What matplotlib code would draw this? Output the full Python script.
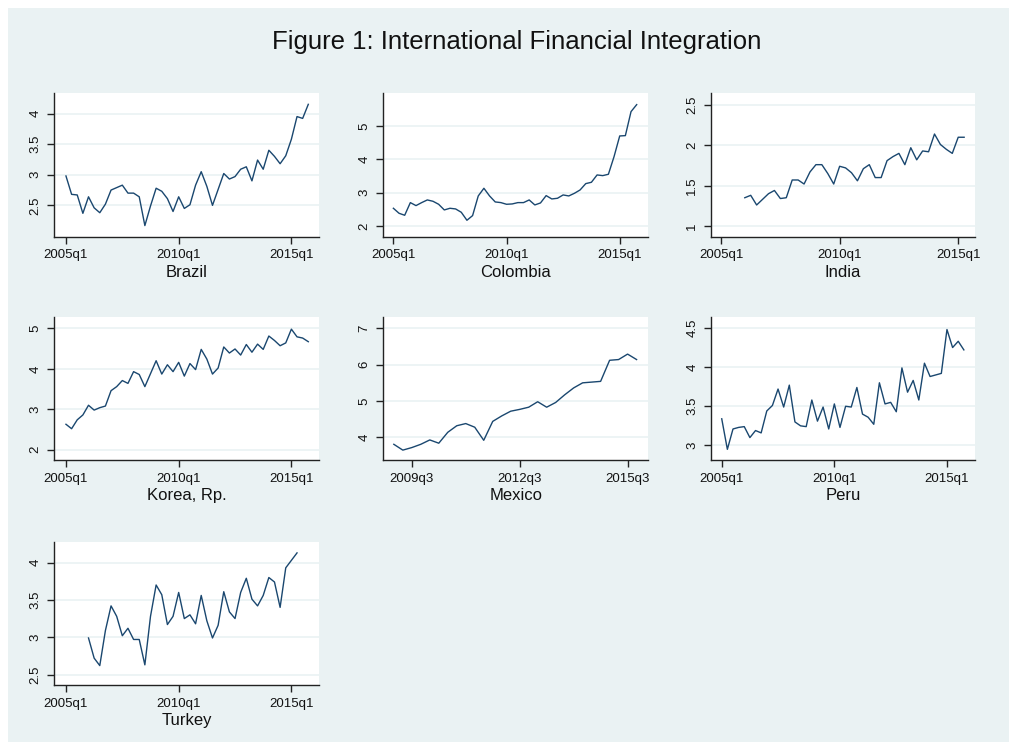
import numpy as np
import matplotlib
matplotlib.use('Agg')
import matplotlib.pyplot as plt
from matplotlib.patches import Rectangle

plt.rcParams['font.family'] = ['Liberation Sans', 'DejaVu Sans']

# quarter index: 0 = 2005q1
countries = ['Brazil', 'Colombia', 'India', 'Korea, Rp.', 'Mexico', 'Peru', 'Turkey']
start_q = [0, 0, 4, 0, 16, 0, 4]

brazil = [2.98, 2.68, 2.67, 2.37, 2.64, 2.46, 2.38, 2.52, 2.75, 2.79, 2.83, 2.70,
          2.70, 2.64, 2.17, 2.49, 2.78, 2.73, 2.61, 2.40, 2.64, 2.45, 2.51, 2.83,
          3.05, 2.81, 2.50, 2.76, 3.02, 2.93, 2.97, 3.09, 3.13, 2.90, 3.24, 3.09,
          3.40, 3.30, 3.18, 3.31, 3.58, 3.95, 3.92, 4.15]
colombia = [2.53, 2.38, 2.32, 2.70, 2.61, 2.70, 2.78, 2.74, 2.65, 2.48, 2.53, 2.51,
            2.41, 2.17, 2.31, 2.90, 3.13, 2.90, 2.72, 2.70, 2.65, 2.66, 2.70, 2.70,
            2.78, 2.63, 2.69, 2.91, 2.81, 2.83, 2.93, 2.90, 2.98, 3.08, 3.27, 3.31,
            3.53, 3.51, 3.55, 4.08, 4.70, 4.71, 5.43, 5.64]
india = [1.35, 1.38, 1.26, 1.33, 1.40, 1.44, 1.34, 1.35, 1.57, 1.57, 1.52, 1.67,
         1.76, 1.76, 1.65, 1.52, 1.74, 1.72, 1.66, 1.56, 1.71, 1.76, 1.60, 1.60,
         1.81, 1.86, 1.90, 1.76, 1.97, 1.82, 1.93, 1.92, 2.14, 2.01, 1.95, 1.90,
         2.10, 2.10]
korea = [2.63, 2.52, 2.74, 2.86, 3.10, 2.98, 3.04, 3.08, 3.46, 3.56, 3.71, 3.64,
         3.93, 3.86, 3.56, 3.88, 4.20, 3.87, 4.10, 3.93, 4.16, 3.82, 4.13, 3.98,
         4.48, 4.24, 3.87, 4.02, 4.54, 4.39, 4.49, 4.34, 4.60, 4.41, 4.61, 4.48,
         4.81, 4.70, 4.57, 4.64, 4.98, 4.79, 4.76, 4.67]
mexico = [3.81, 3.65, 3.72, 3.81, 3.93, 3.84, 4.14, 4.32, 4.38, 4.28, 3.92, 4.44,
          4.59, 4.72, 4.77, 4.83, 4.98, 4.83, 4.96, 5.17, 5.36, 5.50, 5.52, 5.54,
          6.12, 6.14, 6.29, 6.14]
peru = [3.34, 2.95, 3.21, 3.23, 3.24, 3.10, 3.19, 3.16, 3.44, 3.51, 3.72, 3.49,
        3.77, 3.30, 3.25, 3.24, 3.58, 3.31, 3.49, 3.21, 3.53, 3.23, 3.50, 3.49,
        3.74, 3.40, 3.36, 3.27, 3.80, 3.53, 3.55, 3.43, 3.99, 3.68, 3.83, 3.58,
        4.05, 3.88, 3.90, 3.92, 4.48, 4.25, 4.33, 4.22]
turkey = [2.99, 2.72, 2.62, 3.09, 3.42, 3.28, 3.02, 3.12, 2.97, 2.97, 2.63, 3.28,
          3.70, 3.57, 3.17, 3.28, 3.60, 3.25, 3.30, 3.18, 3.56, 3.22, 2.99, 3.16,
          3.61, 3.34, 3.25, 3.60, 3.79, 3.51, 3.42, 3.56, 3.80, 3.74, 3.40, 3.93,
          4.03, 4.13]
series = [brazil, colombia, india, korea, mexico, peru, turkey]

yticks = [[2.5, 3, 3.5, 4], [2, 3, 4, 5], [1, 1.5, 2, 2.5], [2, 3, 4, 5],
          [4, 5, 6, 7], [3, 3.5, 4, 4.5], [2.5, 3, 3.5, 4]]
xticks_std = [0, 20, 40]
xlabels_std = ['2005q1', '2010q1', '2015q1']
xticks_mex = [18, 30, 42]
xlabels_mex = ['2009q3', '2012q3', '2015q3']

# axis ranges as in the original
xlims = [(-2.07, 44.9), (-1.78, 45.0), (-1.75, 42.9), (-2.07, 44.9),
         (14.83, 44.27), (-1.96, 45.05), (-2.07, 44.9)]
ylims = [(1.99, 4.33), (1.68, 5.98), (0.868, 2.645), (1.74, 5.28),
         (3.37, 7.31), (2.81, 4.64), (2.36, 4.28)]

W, H = 1009, 742
bg = '#eaf2f3'
navy = '#1a476f'

fig = plt.figure(figsize=(W / 100, H / 100), dpi=100)
fig.patch.set_facecolor('white')
fig.patches.append(Rectangle((8 / W, 0), 1 - 8 / W, 1 - 8 / H, transform=fig.transFigure,
                             facecolor=bg, edgecolor='none', zorder=-10))

fig.text(517 / W, 1 - 42 / H, 'Figure 1: International Financial Integration',
         ha='center', va='center', fontsize=18.5, color='#111111')

col_x = [54.3, 383.3, 710.7]
row_y = [93.3, 317.0, 541.7]
aw, ah = 264.7, 143.3

for k, name in enumerate(countries):
    r, c = divmod(k, 3)
    ax = fig.add_axes([col_x[c] / W, 1 - (row_y[r] + ah) / H, aw / W, ah / H])
    ax.set_facecolor('white')
    vals = series[k]
    x = np.arange(start_q[k], start_q[k] + len(vals))
    for t in yticks[k]:
        ax.axhline(t, color=bg, lw=1.2, zorder=1)
    ax.plot(x, vals, color=navy, lw=1.0, zorder=3)
    ax.set_xlim(*xlims[k])
    ax.set_ylim(*ylims[k])
    ax.set_yticks(yticks[k])
    ax.set_yticklabels(['%g' % t for t in yticks[k]], rotation=90, va='center')
    if name == 'Mexico':
        ax.set_xticks(xticks_mex)
        ax.set_xticklabels(xlabels_mex)
    else:
        ax.set_xticks(xticks_std)
        ax.set_xticklabels(xlabels_std)
    for s in ['top', 'right']:
        ax.spines[s].set_visible(False)
    for s in ['left', 'bottom']:
        ax.spines[s].set_color('#222222')
        ax.spines[s].set_linewidth(1.0)
    ax.tick_params(direction='out', length=5, width=1.0, color='#222222',
                   labelsize=9.5, labelcolor='#111111', pad=4)
    ax.set_xlabel(name, fontsize=12, color='#111111', labelpad=2.5)

fig.savefig('out.png', dpi=100, facecolor=fig.get_facecolor())
